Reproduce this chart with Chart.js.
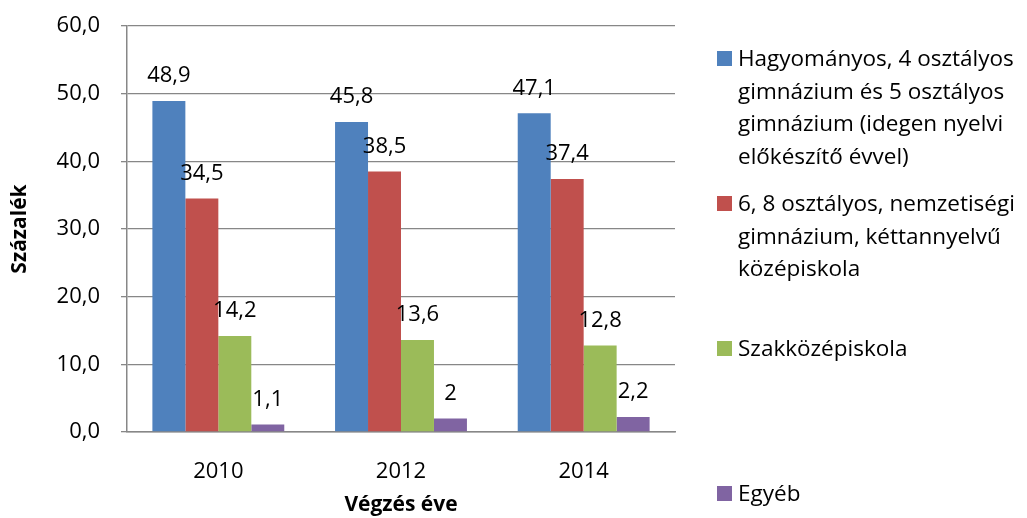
<!DOCTYPE html>
<html lang="hu">
<head>
<meta charset="utf-8">
<title>Végzés éve szerinti megoszlás</title>
<script src="https://cdn.jsdelivr.net/npm/chart.js@4.4.1/dist/chart.umd.min.js"></script>
<style>
  html, body { margin: 0; padding: 0; background: #fff; }
  #wrap { position: relative; width: 1027px; height: 518px; }
  #legend {
    position: absolute; left: 717px; top: 42px; margin: 0; padding: 0;
    list-style: none; font-family: 'Open Sans', sans-serif; font-size: 22.5px; color: #000;
  }
  #legend li { display: flex; align-items: flex-start; height: 145px; white-space: nowrap; }
  #legend .box { width: 15px; height: 15px; margin: 9px 6px 0 0; flex: none; }
  #legend .txt { line-height: 32.5px; }
</style>
</head>
<body>
<div id="wrap">
  <canvas id="chart" width="1027" height="518"></canvas>
  <ul id="legend"></ul>
</div>
<script>
// Kategóriák (végzés éve) és sorozatok
const years = ['2010', '2012', '2014'];
const hagyomanyos = [48.9, 45.8, 47.1];
const hatNyolcOsztalyos = [34.5, 38.5, 37.4];
const szakkozep = [14.2, 13.6, 12.8];
const egyeb = [1.1, 2, 2.2];
const yTicks = [0, 10, 20, 30, 40, 50, 60];

// Jelmagyarázat sorai (ahogy az eredetin tördelve van)
const legendLines = [
  ['Hagyományos, 4 osztályos', 'gimnázium és 5 osztályos', 'gimnázium (idegen nyelvi', 'előkészítő évvel)'],
  ['6, 8 osztályos, nemzetiségi', 'gimnázium, kéttannyelvű', 'középiskola'],
  ['Szakközépiskola'],
  ['Egyéb']
];

const colors = ['#4F81BD', '#C0504D', '#9BBB59', '#8064A2'];
const gridColor = '#878787';

// magyar tizedesvessző
const hu = v => String(v).replace('.', ',');

// Értékcímkék az oszlopok fölé
const barLabels = {
  id: 'barLabels',
  afterDatasetsDraw(chart) {
    const ctx = chart.ctx;
    ctx.save();
    ctx.font = '22px "Open Sans"';
    ctx.fillStyle = '#000';
    ctx.textAlign = 'center';
    ctx.textBaseline = 'middle';
    chart.data.datasets.forEach((ds, i) => {
      chart.getDatasetMeta(i).data.forEach((bar, j) => {
        ctx.fillText(hu(ds.data[j]), bar.x, bar.y - 25);
      });
    });
    ctx.restore();
  }
};

// HTML jelmagyarázat, a chart saját legend elemeiből
const htmlLegend = {
  id: 'htmlLegend',
  afterUpdate(chart) {
    const ul = document.getElementById('legend');
    ul.innerHTML = '';
    const items = chart.options.plugins.legend.labels.generateLabels(chart);
    items.forEach((item, i) => {
      const li = document.createElement('li');
      const box = document.createElement('span');
      box.className = 'box';
      box.style.background = item.fillStyle;
      const txt = document.createElement('span');
      txt.className = 'txt';
      legendLines[i].forEach((line, k) => {
        if (k > 0) txt.appendChild(document.createElement('br'));
        txt.appendChild(document.createTextNode(line));
      });
      li.appendChild(box);
      li.appendChild(txt);
      ul.appendChild(li);
    });
  }
};

function draw() {
  Chart.defaults.font.family = "'Open Sans', sans-serif";
  Chart.defaults.color = '#000';

  const series = [hagyomanyos, hatNyolcOsztalyos, szakkozep, egyeb];

  new Chart(document.getElementById('chart'), {
    type: 'bar',
    data: {
      labels: years,
      datasets: series.map((values, i) => ({
        label: legendLines[i].join(' '),
        data: values,
        backgroundColor: colors[i],
        borderWidth: 0,
        categoryPercentage: 0.722,
        barPercentage: 1
      }))
    },
    options: {
      responsive: false,
      animation: false,
      layout: { padding: { top: 26, right: 352, bottom: 0, left: 0 } },
      plugins: {
        legend: { display: false },
        tooltip: { enabled: false }
      },
      scales: {
        x: {
          grid: { display: false },
          border: { display: true, color: gridColor, width: 1.5 },
          ticks: { font: { size: 22 }, padding: 19, color: '#000' },
          title: {
            display: true,
            text: 'Végzés éve',
            font: { size: 21, weight: 'bold' },
            color: '#000',
            padding: { top: 0, bottom: 0 }
          },
          afterFit: s => { s.height = 86; }
        },
        y: {
          min: 0,
          max: 60,
          afterBuildTicks: s => { s.ticks = yTicks.map(v => ({ value: v })); },
          grid: { color: gridColor, lineWidth: 1.3, tickLength: 6 },
          border: { display: true, color: gridColor, width: 1.5 },
          ticks: {
            font: { size: 22 },
            padding: 21,
            color: '#000',
            callback: v => v.toFixed(1).replace('.', ',')
          },
          title: {
            display: true,
            text: 'Százalék',
            font: { size: 21, weight: 'bold' },
            color: '#000',
            padding: { top: 7, bottom: 0 }
          },
          afterFit: s => {
            s.width = 127;
            s.paddingTop = 0;
            s.paddingBottom = 0;
          }
        }
      }
    },
    plugins: [barLabels, htmlLegend]
  });
}

document.fonts.load('22px "Open Sans"')
  .then(() => document.fonts.load('bold 21px "Open Sans"'))
  .then(draw, draw);
</script>
</body>
</html>
